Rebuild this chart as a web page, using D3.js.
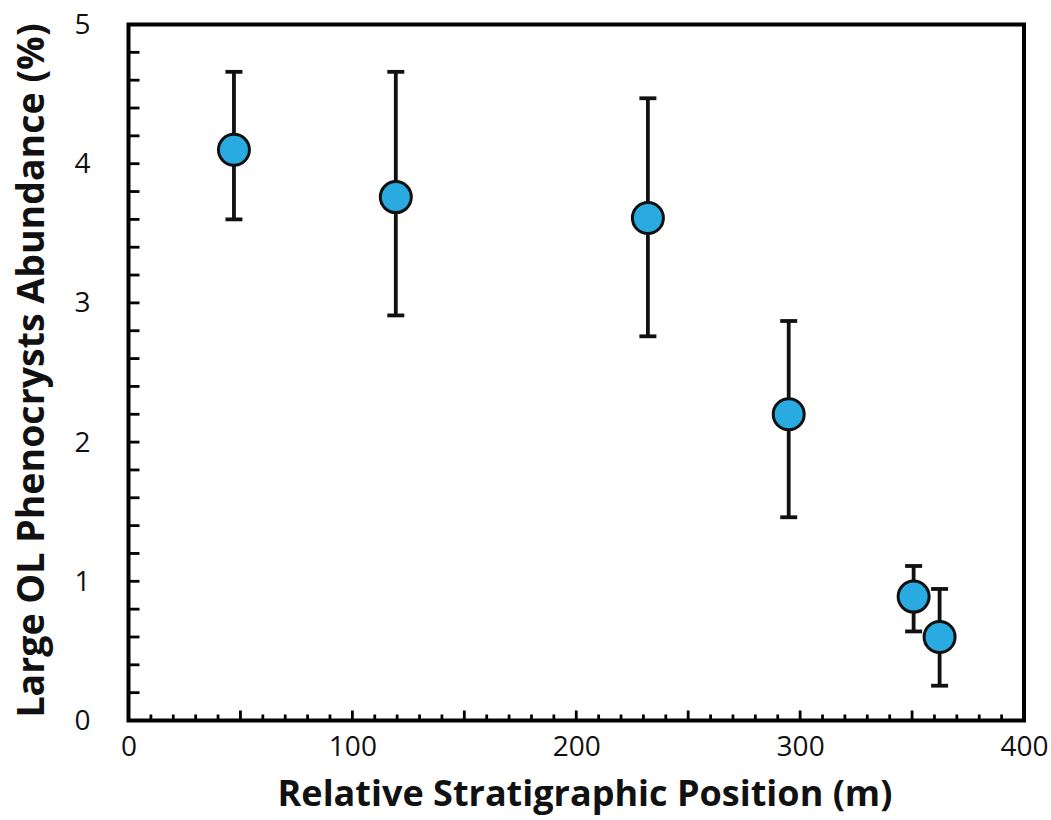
<!DOCTYPE html>
<html><head><meta charset="utf-8">
<script src="https://cdn.jsdelivr.net/npm/d3@7"></script>
<style>body{margin:0;background:#fff}svg{display:block}text{font-family:"Open Sans",sans-serif}</style>
</head><body>
<svg id="c" width="1051" height="820"></svg>
<script>
const positions = [47.1, 119.4, 232.0, 294.9, 350.7, 362.3];
const abundance = [4.10, 3.76, 3.61, 2.20, 0.89, 0.60];
const errUpper = [4.66, 4.66, 4.47, 2.87, 1.11, 0.945];
const errLower = [3.60, 2.91, 2.76, 1.46, 0.64, 0.25];
const xTicks = [0, 100, 200, 300, 400];
const yTicks = [0, 1, 2, 3, 4, 5];

const svg = d3.select("#c");
const L = 128.5, R = 1024, T = 24.5, B = 720.5;
const x = d3.scaleLinear().domain([0, 400]).range([L, R]);
const y = d3.scaleLinear().domain([0, 5]).range([B, T]);

// minor ticks (inside)
const xMinor = d3.range(10, 400, 10);
svg.append("g").selectAll("line").data(xMinor).join("line")
  .attr("x1", d => x(d)).attr("x2", d => x(d))
  .attr("y1", B).attr("y2", d => B - (d % 50 === 0 ? 10 : 6))
  .attr("stroke", "#000").attr("stroke-width", 2.8);
const yMinor = d3.range(1, 25).map(i => i * 0.2);
svg.append("g").selectAll("line").data(yMinor).join("line")
  .attr("x1", L).attr("x2", L + 11)
  .attr("y1", d => y(d)).attr("y2", d => y(d))
  .attr("stroke", "#000").attr("stroke-width", 2.8);

// frame
svg.append("rect").attr("x", L).attr("y", T).attr("width", R - L).attr("height", B - T)
  .attr("fill", "none").attr("stroke", "#000").attr("stroke-width", 4);

// tick labels via axes
const xAxis = svg.append("g").attr("transform", `translate(0,${B})`)
  .call(d3.axisBottom(x).tickValues(xTicks).tickSize(0).tickPadding(16).tickFormat(d3.format("d")));
const yAxis = svg.append("g").attr("transform", `translate(${L},0)`)
  .call(d3.axisLeft(y).tickValues(yTicks).tickSize(0).tickPadding(38).tickFormat(d3.format("d")));
[xAxis, yAxis].forEach(a => {
  a.select(".domain").remove();
  a.selectAll("text").attr("font-family", '"Open Sans", sans-serif').attr("font-size", 28).attr("fill", "#111");
});

// titles
svg.append("text").attr("x", 585).attr("y", 806).attr("text-anchor", "middle")
  .attr("font-size", 36).attr("font-weight", 700).attr("fill", "#111")
  .text("Relative Stratigraphic Position (m)");
svg.append("text").attr("transform", `translate(44,${(T + B) / 2 - 2}) rotate(-90)`)
  .attr("text-anchor", "middle").attr("font-size", 37.5).attr("font-weight", 700).attr("fill", "#111")
  .text("Large OL Phenocrysts Abundance (%)");

const data = positions.map((p, i) => ({p, v: abundance[i], hi: errUpper[i], lo: errLower[i]}));
const bars = svg.append("g").attr("stroke", "#111").attr("stroke-width", 3.8);
bars.selectAll(".v").data(data).join("line")
  .attr("x1", d => x(d.p)).attr("x2", d => x(d.p))
  .attr("y1", d => y(d.hi)).attr("y2", d => y(d.lo));
bars.selectAll(".ch").data(data).join("line")
  .attr("x1", d => x(d.p) - 8.5).attr("x2", d => x(d.p) + 8.5)
  .attr("y1", d => y(d.hi)).attr("y2", d => y(d.hi));
bars.selectAll(".cl").data(data).join("line")
  .attr("x1", d => x(d.p) - 8.5).attr("x2", d => x(d.p) + 8.5)
  .attr("y1", d => y(d.lo)).attr("y2", d => y(d.lo));

svg.append("g").selectAll("circle").data(data).join("circle")
  .attr("cx", d => x(d.p)).attr("cy", d => y(d.v)).attr("r", 15.5)
  .attr("fill", "#29abe2").attr("stroke", "#111").attr("stroke-width", 3);
</script>
</body></html>
